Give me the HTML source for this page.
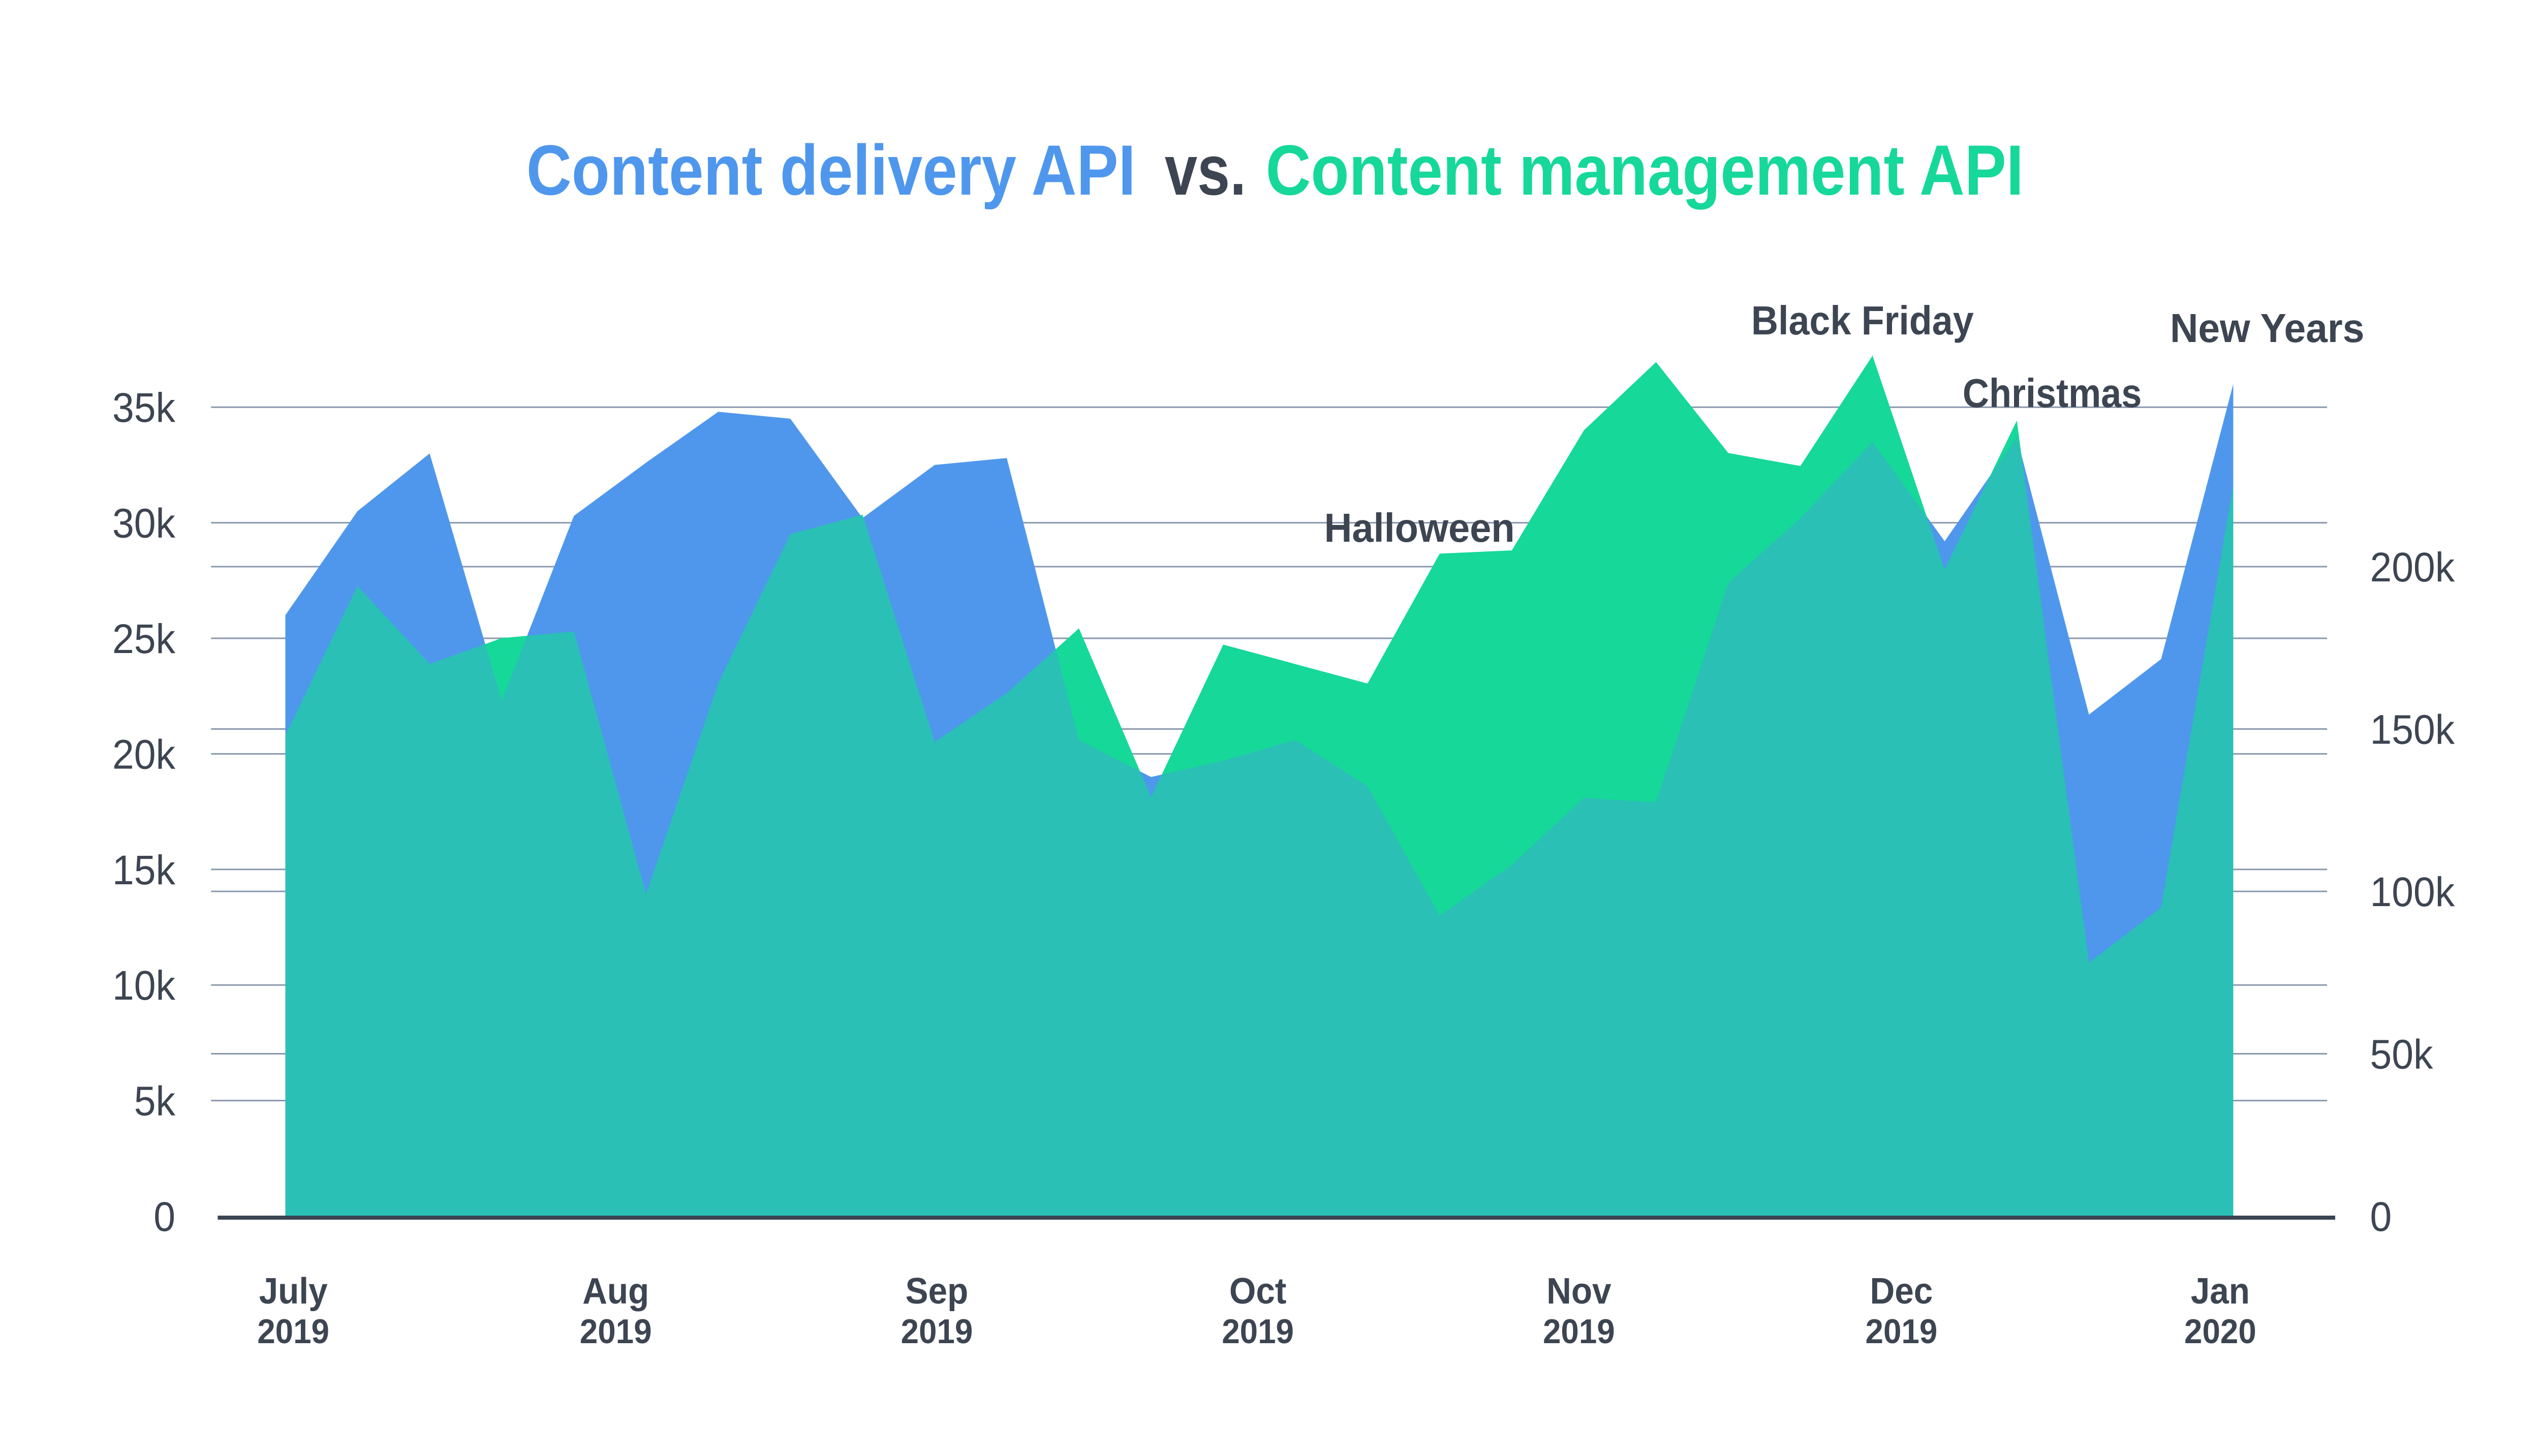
<!DOCTYPE html>
<html><head><meta charset="utf-8"><style>
html,body{margin:0;padding:0;background:#fff;width:100%;height:100%;overflow:hidden;}
svg{display:block;font-family:"Liberation Sans",sans-serif;width:100vw;height:100vh;}
</style></head><body>
<svg id="chart" viewBox="0 0 5334 2865" preserveAspectRatio="none" xmlns="http://www.w3.org/2000/svg">
<rect width="5334" height="2865" fill="#fff"/>
<g font-weight="bold" font-size="140">
<text x="1105" y="383" fill="#4f97ec" textLength="1279" lengthAdjust="spacingAndGlyphs">Content delivery API</text>
<text x="2445" y="383" fill="#3d4552" textLength="171" lengthAdjust="spacingAndGlyphs">vs.</text>
<text x="2657" y="383" fill="#16d898" textLength="1591" lengthAdjust="spacingAndGlyphs">Content management API</text>
</g>
<g id="grid"></g>
<g id="areas"></g>
<g id="axes"></g>
<g id="annots" font-weight="bold" font-size="80" fill="#3d4552"></g>
</svg>
<script>
const blueVals = [26.0,30.5,33.0,22.3,30.3,32.6,34.8,34.5,30.2,32.5,32.8,20.6,19.0,19.7,20.6,18.6,13.0,15.2,18.1,17.9,27.4,30.2,33.5,29.2,33.7,21.7,24.1,36.0];
const greenVals = [148,194,170,178,180,99,164,210,216,146,161,181,129,176,170,164,204,205,242,263,235,231,265,199,245,78,95,225];
const leftTicks = [0,5,10,15,20,25,30,35];
const leftTickLabels = ["0","5k","10k","15k","20k","25k","30k","35k"];
const rightTicks = [0,50,100,150,200];
const rightTickLabels = ["0","50k","100k","150k","200k"];
const monthLabels = ["July","Aug","Sep","Oct","Nov","Dec","Jan"];
const yearLabels = ["2019","2019","2019","2019","2019","2019","2020"];
const monthPos = [0.11,4.58,9.03,13.48,17.93,22.4,26.82];
const annotations = ["Halloween","Black Friday","Christmas","New Years"];
const annotIdx = [15.72,21.86,24.49,27.47];

const NS="http://www.w3.org/2000/svg";
const X0=599, STEP=(4688-599)/27, BASE=2393;
const xS=i=>X0+i*STEP;
const yL=v=>BASE-v*45.48;
const yR=v=>BASE-v*6.39;
function mk(tag,attrs,parent){const e=document.createElementNS(NS,tag);for(const k in attrs)e.setAttribute(k,attrs[k]);parent.appendChild(e);return e;}

const grid=document.getElementById('grid');
leftTicks.forEach((t,i)=>{
  if(t>0){const l=mk('line',{x1:443,x2:4885,y1:yL(t),y2:yL(t),stroke:'#8a98ad','stroke-width':3},grid);
  
  }
  const tx=mk('text',{x:368,y:yL(t)+29,'text-anchor':'end','font-size':82,fill:'#3d4552'},grid);
  tx.textContent=leftTickLabels[i];
  
  
});
rightTicks.forEach((t,i)=>{
  if(t>0){const l=mk('line',{x1:443,x2:4885,y1:yR(t),y2:yR(t),stroke:'#8a98ad','stroke-width':3},grid);
  
  }
  const tx=mk('text',{x:4975,y:yR(t)+29,'font-size':82,fill:'#3d4552'},grid);
  tx.textContent=rightTickLabels[i];
  
  
});

function areaPath(vals,yf){let d='M'+xS(0)+','+BASE;vals.forEach((v,i)=>{d+=' L'+xS(i).toFixed(1)+','+yf(v).toFixed(1);});d+=' L'+xS(vals.length-1)+','+BASE+' Z';return d;}
const areas=document.getElementById('areas');
const defs=mk('defs',{},areas);
const cp=mk('clipPath',{id:'greenClip'},defs);
mk('path',{d:areaPath(greenVals,yR)},cp);
const pb=mk('path',{d:areaPath(blueVals,yL),fill:'#4f97ec'},areas);


const pg=mk('path',{d:areaPath(greenVals,yR),fill:'#16d898'},areas);


const po=mk('path',{d:areaPath(blueVals,yL),fill:'#2ac0b6','clip-path':'url(#greenClip)'},areas);



const axes=document.getElementById('axes');
const ax=mk('line',{x1:457,x2:4902,y1:BASE+3,y2:BASE+3,stroke:'#3a4452','stroke-width':8},axes);


monthLabels.forEach((m,i)=>{
  const t=mk('text',{x:xS(monthPos[i]),y:2565,'text-anchor':'middle','font-size':72,'font-weight':'bold',fill:'#3d4552'},axes);
  t.textContent=m;
  
  
  const y=mk('text',{x:xS(monthPos[i]),y:2643,'text-anchor':'middle','font-size':68,'font-weight':'bold',fill:'#3d4552'},axes);
  y.textContent=yearLabels[i];
  
  
});
const an=document.getElementById('annots');
const annotY=[1066,658,801,673];
const annotW=[400,467,376,408];
annotations.forEach((a,i)=>{
  const t=mk('text',{x:xS(annotIdx[i]),y:annotY[i],'text-anchor':'middle',textLength:annotW[i],lengthAdjust:'spacingAndGlyphs'},an);
  t.textContent=a;
  
  
});
</script>
</body></html>
